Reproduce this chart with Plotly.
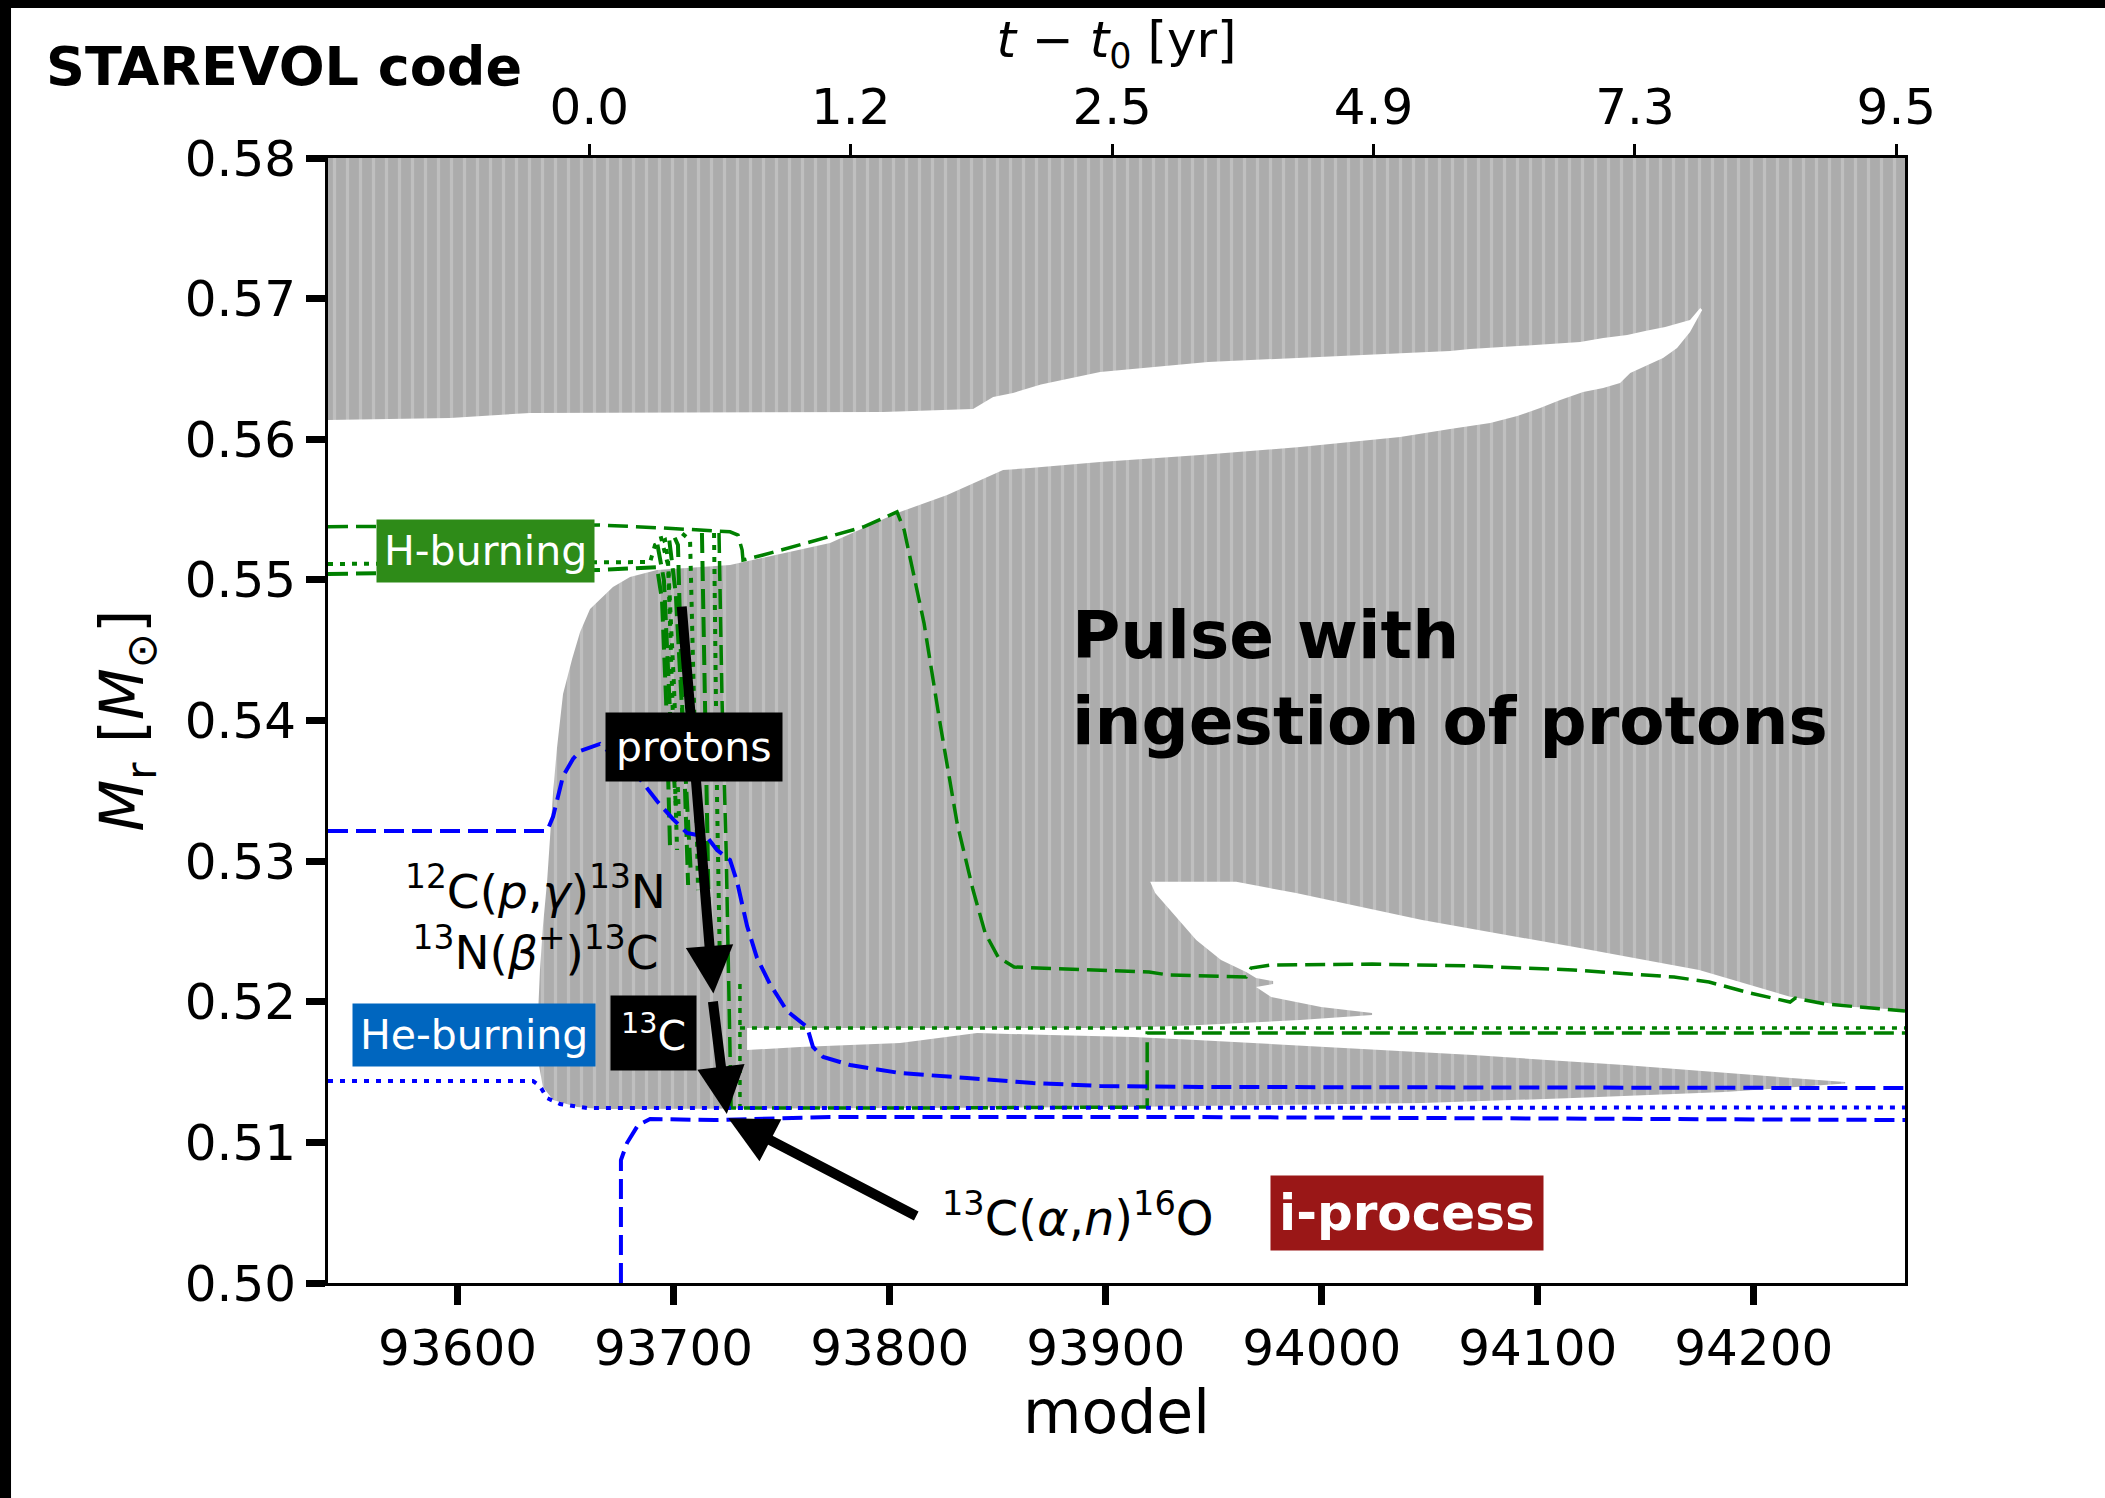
import plotly.graph_objects as go

# ---------------- data ----------------
# Outline of the convective zones (grey) in the model / M_r plane
conv_model = [93540, 94270, 94270,
              94244.6, 94216.8, 94174.7, 94116.4, 94046.5, 93988.1, 93960.4, 93920.6,
              93922.9, 93929.8, 93941.9, 93953.4, 93965.0, 93969.6, 93977.5, 93977.5, 93969.6,
              93976.6, 93999.7, 94023.3,
              94023.3, 93990.0, 93943.7, 93906.7,
              93734.0, 93734.0,
              93758.5, 93804.8, 93840.5, 93874.3, 93912.7, 93941.9, 93999.7, 94070.1, 94140.0, 94209.9, 94242.3,
              94242.3, 94186.3, 94116.4, 94046.5, 93976.6, 93906.7, 93804.8,
              93665.9, 93655.3, 93644.2, 93639.5, 93637.2, 93637.2, 93638.1, 93639.5, 93641.4, 93642.8,
              93644.2, 93646.0, 93648.8, 93653.0, 93656.7, 93661.3, 93667.3, 93671.9,
              93679.8, 93692.3, 93726.1, 93772.4, 93803.4, 93826.6, 93852.5, 93865.0, 93897.4, 93943.7,
              93990.0, 94036.3, 94059.4,
              94078.0, 94090.5, 94101.1, 94110.4, 94121.0, 94130.3, 94138.1, 94142.8, 94150.6, 94158.0,
              94164.5, 94170.5, 94176.1,
              94175.2, 94170.5, 94165.9, 94159.0, 94149.7, 94141.4, 94130.3, 94119.6, 94098.8, 94068.7,
              94059.4, 94009.4, 93947.4, 93897.4, 93870.0, 93857.1, 93847.9, 93838.6, 93796.9, 93633.5,
              93596.5, 93540]
conv_mr = [0.58, 0.58, 0.51941,
           0.51965, 0.52036, 0.52226, 0.52391, 0.52581, 0.52773, 0.52853, 0.52853,
           0.52773, 0.52652, 0.52439, 0.52297, 0.52211, 0.52169, 0.52147, 0.52126, 0.52105,
           0.52034, 0.51962, 0.51920,
           0.51906, 0.51870, 0.51834, 0.51813,
           0.51813, 0.51657,
           0.51678, 0.51706, 0.51778, 0.51763, 0.51749, 0.51728, 0.51678, 0.51621, 0.51550, 0.51465, 0.51429,
           0.51418, 0.51358, 0.51315, 0.51280, 0.51266, 0.51251, 0.51244,
           0.51237, 0.51251, 0.51301, 0.51394, 0.51586, 0.51898, 0.52218, 0.52538, 0.52851, 0.53171,
           0.53491, 0.53804, 0.54188, 0.54437, 0.54629, 0.54793, 0.54885, 0.54949,
           0.55020, 0.55070, 0.55106, 0.55262, 0.55475, 0.55604, 0.55781, 0.55795, 0.55838, 0.55888,
           0.55945, 0.56016, 0.56073,
           0.56115, 0.56165, 0.56222, 0.56279, 0.56336, 0.56364, 0.56400, 0.56471, 0.56528, 0.56578,
           0.56649, 0.56763, 0.56919,
           0.56933, 0.56848, 0.56827, 0.56798, 0.56770, 0.56741, 0.56720, 0.56692, 0.56670, 0.56642,
           0.56628, 0.56592, 0.56549, 0.56478, 0.56390, 0.56329, 0.56300, 0.56215, 0.56194, 0.56187,
           0.56151, 0.56137]

# H-burning shell: upper boundary (dashed)
h_top_model = [93540, 93665.9, 93695.1, 93726.1, 93729.8, 93731.7, 93732.1, 93741.4, 93763.1, 93787.7,
               93803.4, 93806.7, 93815.9, 93823.3, 93831.2, 93838.6, 93844.2, 93850.2, 93857.6, 93901.1,
               93920.1, 93929.3, 93965.0, 93967.3, 93976.6, 94023.3, 94070.1, 94116.4, 94163.1, 94179.3,
               94198.3, 94216.8, 94219.2, 94233.0, 94270]
h_top_mr = [0.55378, 0.55390, 0.55369, 0.55342, 0.55319, 0.55212, 0.55141, 0.55177, 0.55269, 0.55376,
            0.55483, 0.55355, 0.54693, 0.53982, 0.53271, 0.52794, 0.52489, 0.52318, 0.52247, 0.52226,
            0.52211, 0.52190, 0.52176, 0.52240, 0.52261, 0.52268, 0.52254, 0.52226, 0.52176, 0.52140,
            0.52062, 0.51998, 0.52026, 0.51984, 0.51934]
# H-burning shell: lower boundary (dashed)
h_low_model = [93540, 93665.9, 93692.3, 93694.6, 93696.5, 93698.3]
h_low_mr = [0.55042, 0.55070, 0.55091, 0.54857, 0.54146, 0.53114]
# H-burning: dotted boundary
h_dot_model = [93540, 93665.9, 93689.1, 93691.4, 93696.0, 93697.4, 93699.3, 93701.6]
h_dot_mr = [0.55113, 0.55120, 0.55127, 0.55248, 0.55283, 0.55141, 0.54146, 0.53079]
# proton-ingestion streaks (dashed / dotted)
streak1_model = [93700.5, 93702.0, 93703.9, 93706.7]
streak1_mr = [0.55300, 0.55248, 0.54146, 0.52830]
streak2_model = [93704.0, 93707.6, 93709.4, 93711.3]
streak2_mr = [0.55330, 0.55283, 0.54146, 0.52794]
streak3_model = [93713.1, 93714.5, 93716.4]
streak3_mr = [0.55333, 0.54146, 0.52510]
streak4_model = [93718.7, 93720.1, 93721.5]
streak4_mr = [0.55333, 0.53435, 0.52190]
streak5_model = [93694.0, 93697.5, 93700.0, 93702.5]
streak5_mr = [0.55310, 0.55100, 0.54300, 0.53300]
streak6_model = [93698.0, 93701.0, 93704.5, 93708.0]
streak6_mr = [0.55280, 0.54900, 0.53900, 0.52900]
streak7_model = [93692.5, 93695.5, 93698.5, 93701.0]
streak7_mr = [0.55250, 0.55000, 0.54000, 0.53400]
# H-burning after the ingestion (dashed)
h_late_model = [93721.0, 93722.4, 93724.3, 93725.6, 93726.6, 93804.8, 93919.2, 93919.2, 94270]
h_late_mr = [0.55333, 0.54146, 0.53079, 0.52012, 0.51244, 0.51244, 0.51251, 0.51778, 0.51778]
# H-burning dotted after ingestion
h_late_dot_model = [93730.7, 93730.7]
h_late_dot_mr = [0.52126, 0.51244]
h_late_dot2_model = [93730.7, 94270]
h_late_dot2_mr = [0.51813, 0.51813]

# He-burning shell
he_top_model = [93540, 93641.4, 93644.2, 93648.8, 93653.4, 93656.7, 93665.9, 93684.4, 93692.3, 93699.7,
                93706.2, 93715.5, 93720.1, 93726.1, 93729.4, 93734.0, 93738.6, 93744.6, 93752.5, 93761.8,
                93764.5, 93769.2, 93781.7, 93804.8, 93835.8, 93866.4, 93897.4, 93943.7, 94270]
he_top_mr = [0.53214, 0.53214, 0.53317, 0.53605, 0.53726, 0.53783, 0.53833, 0.53584, 0.53427, 0.53299,
             0.53200, 0.53171, 0.53079, 0.53008, 0.52851, 0.52538, 0.52311, 0.52126, 0.51934, 0.51820,
             0.51678, 0.51607, 0.51550, 0.51493, 0.51458, 0.51422, 0.51401, 0.51394, 0.51386]
he_dot_model = [93540, 93634.9, 93638.1, 93641.4, 93647.4, 93659.9, 94270]
he_dot_mr = [0.51436, 0.51436, 0.51401, 0.51315, 0.51273, 0.51244, 0.51248]
he_low_model = [93675.6, 93675.6, 93678.4, 93683.5, 93689.1, 93719.2, 93772.4, 93943.7, 94270]
he_low_mr = [0.50000, 0.50874, 0.50995, 0.51123, 0.51166, 0.51159, 0.51180, 0.51180, 0.51159]

model_ticks = [93600, 93700, 93800, 93900, 94000, 94100, 94200]
model_tick_labels = ["93600", "93700", "93800", "93900", "94000", "94100", "94200"]
mr_ticks = [0.50, 0.51, 0.52, 0.53, 0.54, 0.55, 0.56, 0.57, 0.58]
time_tick_models = [93661, 93782, 93903, 94024, 94145, 94266]
time_tick_labels = ["0.0", "1.2", "2.5", "4.9", "7.3", "9.5"]

# ---------------- figure ----------------
FONT = "DejaVu Sans"
GREEN = "#008000"
BLUE = "#0000ff"
DASH = "20px,8px"
DOT = "5px,7px"

fig = go.Figure()
fig.add_trace(go.Scatter(
    x=conv_model, y=conv_mr, mode="lines", fill="toself",
    line=dict(width=0, color="#b0b0b0"), fillcolor="#b0b0b0",
    fillpattern=dict(shape="|", bgcolor="#acacac", fgcolor="#bfbfbf",
                     size=13, solidity=0.25, fillmode="replace"),
    hoverinfo="skip", showlegend=False))


def add_line(x, y, color, dash, width, xaxis="x"):
    fig.add_trace(go.Scatter(x=x, y=y, mode="lines", xaxis=xaxis,
                             line=dict(color=color, dash=dash, width=width),
                             hoverinfo="skip", showlegend=False))


add_line(h_top_model, h_top_mr, GREEN, DASH, 3.5)
add_line(h_low_model, h_low_mr, GREEN, DASH, 4)
add_line(h_dot_model, h_dot_mr, GREEN, DOT, 4)
add_line(streak1_model, streak1_mr, GREEN, DASH, 4)
add_line(streak2_model, streak2_mr, GREEN, DOT, 4)
add_line(streak3_model, streak3_mr, GREEN, DASH, 4)
add_line(streak4_model, streak4_mr, GREEN, DOT, 4)
add_line(streak5_model, streak5_mr, GREEN, DOT, 4)
add_line(streak6_model, streak6_mr, GREEN, DASH, 4)
add_line(streak7_model, streak7_mr, GREEN, DASH, 4)
add_line(h_late_model, h_late_mr, GREEN, DASH, 3.5)
add_line(h_late_dot_model, h_late_dot_mr, GREEN, DOT, 3.5)
add_line(h_late_dot2_model, h_late_dot2_mr, GREEN, DOT, 3.5)
add_line(he_top_model, he_top_mr, BLUE, DASH, 4)
add_line(he_dot_model, he_dot_mr, BLUE, DOT, 4)
add_line(he_low_model, he_low_mr, BLUE, DASH, 4, xaxis="x2")

annotations = []
# arrows
for (hx, hy, tx, ty) in [(93718.4, 0.52059, 93703.7, 0.54821),
                         (93724.6, 0.51202, 93718.1, 0.52012),
                         (93725.3, 0.51171, 93813.0, 0.50471)]:
    annotations.append(dict(x=hx, y=hy, ax=tx, ay=ty, xref="x", yref="y", axref="x", ayref="y",
                            text="", showarrow=True, arrowhead=2, arrowwidth=10, arrowsize=0.95,
                            arrowcolor="black", standoff=0))


def box(text, x, y, bg, size=41, pad=8):
    annotations.append(dict(x=x, y=y, xref="x", yref="y", text=text, showarrow=False,
                            bgcolor=bg, borderpad=pad,
                            font=dict(family=FONT, size=size, color="white")))


box("H-burning", 93613.1, 0.55205, "#2e8b18", pad=7)
box("protons", 93709.4, 0.53811, "black", pad=10)
box("He-burning", 93607.6, 0.51767, "#0066bf", pad=7)
box("<sup>13</sup>C", 93690.9, 0.51778, "black", pad=10)
box("<b>i-process</b>", 94039.5, 0.50501, "#9a1717", size=50, pad=8)

annotations.append(dict(x=93636, y=0.52595, xref="x", yref="y",
                        text="<sup>12</sup>C(<i>p</i>,<i>γ</i>)<sup>13</sup>N<br>"
                             "<sup>13</sup>N(<i>β</i><sup>+</sup>)<sup>13</sup>C",
                        showarrow=False, align="center",
                        font=dict(family=FONT, size=47, color="black")))
annotations.append(dict(x=93887.2, y=0.50483, xref="x", yref="y",
                        text="<sup>13</sup>C(<i>α</i>,<i>n</i>)<sup>16</sup>O", showarrow=False,
                        font=dict(family=FONT, size=48, color="black")))

annotations.append(dict(x=93883.5, y=0.54302, xref="x", yref="y",
                        text="<b>Pulse with<br>ingestion of protons</b>", showarrow=False,
                        xanchor="left", yanchor="middle", align="left",
                        font=dict(family=FONT, size=66, color="black")))
annotations.append(dict(x=-0.18, y=1.0809, xref="paper", yref="paper",
                        text="<b>STAREVOL code</b>", showarrow=False,
                        xanchor="left", yanchor="middle",
                        font=dict(family=FONT, size=54, color="black")))

axis_common = dict(showgrid=False, zeroline=False, color="black",
                   tickfont=dict(family=FONT, size=50, color="black"))

fig.update_layout(
    width=2105, height=1498,
    margin=dict(l=328, r=200, t=158, b=215),
    paper_bgcolor="white", plot_bgcolor="white",
    showlegend=False,
    annotations=annotations,
    xaxis=dict(range=[93540, 94270], tickvals=model_ticks, ticktext=model_tick_labels,
               ticks="outside", ticklen=19,
               tickwidth=7, tickcolor="black", showline=True, linewidth=3, linecolor="black",
               mirror=True,
               title=dict(text="model", font=dict(family=FONT, size=60, color="black"), standoff=12),
               **axis_common),
    yaxis=dict(range=[0.50, 0.58], tickvals=mr_ticks, tickformat=".2f", ticks="outside",
               ticklen=19, tickwidth=7, tickcolor="black", showline=True, linewidth=3,
               linecolor="black", mirror=True,
               title=dict(text="<i>M</i><sub>r</sub> [<i>M</i><sub>⊙</sub>]",
                          font=dict(family=FONT, size=60, color="black"), standoff=22),
               **axis_common),
    xaxis2=dict(overlaying="x", side="top", range=[93540, 94270], tickvals=time_tick_models,
                ticktext=time_tick_labels, ticks="outside", ticklen=13, tickwidth=3,
                tickcolor="black", showline=False,
                title=dict(text="<i>t</i> − <i>t</i><sub>0</sub> [yr]",
                           font=dict(family=FONT, size=50, color="black"), standoff=4),
                **axis_common),
    shapes=[
        dict(type="rect", xref="paper", yref="paper", x0=-0.209, x1=1.13, y0=1.1333, y1=1.142,
             fillcolor="black", line=dict(width=0), layer="above"),
        dict(type="rect", xref="paper", yref="paper", x0=-0.209, x1=-0.201, y0=-0.2, y1=1.142,
             fillcolor="black", line=dict(width=0), layer="above"),
    ],
)

fig.write_html("out.html")
